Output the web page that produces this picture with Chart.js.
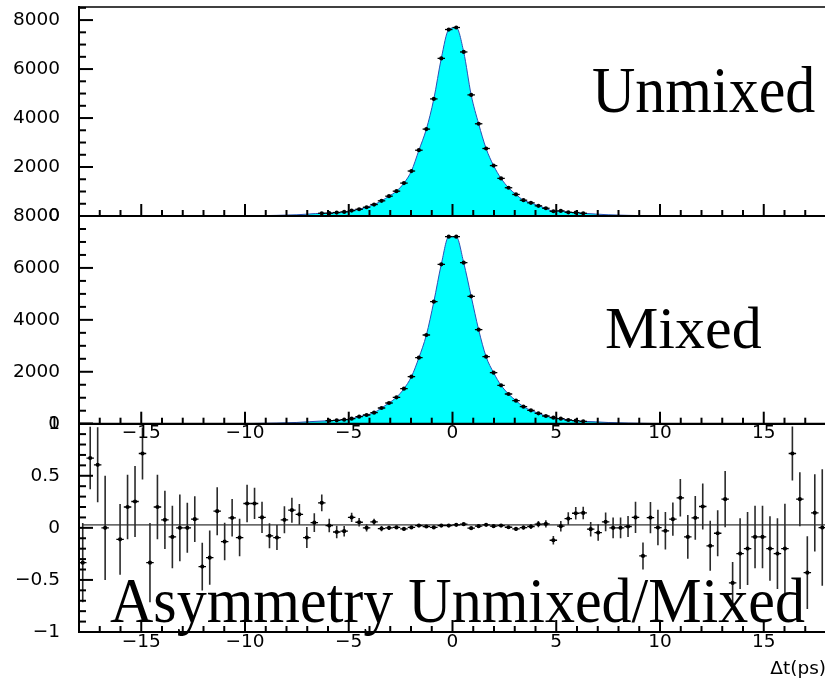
<!DOCTYPE html>
<html>
<head>
<meta charset="utf-8">
<script src="https://cdn.jsdelivr.net/npm/chart.js@4/dist/chart.umd.min.js"></script>
<style>
html,body{margin:0;padding:0;background:#fff;overflow:hidden;width:825px;height:680px}
#wrap{position:relative;width:830px;height:680px}
canvas{position:absolute;left:0;top:0}
</style>
</head>
<body>
<div id="wrap">
<canvas id="cAsym" width="830" height="680"></canvas>
<canvas id="cMixed" width="830" height="680"></canvas>
<canvas id="cUnmixed" width="830" height="680"></canvas>
</div>
<script>
// ---------- binning (100 bins over -18 .. 18 ps) ----------
const BIN_LO = -18;
const BIN_W = 0.36;
const FIRST_COUNT_BIN = 32;          // first bin carrying a visible marker (centre -6.30)

// ---------- Unmixed counts, bins 32..67 (centres -6.30 .. +6.30) ----------
const unmixedCounts = [111,115,140,168,222,275,357,468,620,809,
  1014,1343,1836,2686,3548,4781,6436,7614,7696,6698,
  4945,3766,2756,2057,1536,1154,879,645,538,415,
  316,193,209,152,140,111];

// ---------- Mixed counts, bins 32..67 ----------
const mixedCounts = [null,116,131,154,193,270,335,424,605,797,
  1017,1348,1810,2542,3417,4700,6140,7203,7203,6202,
  4907,3621,2581,1965,1479,1144,886,655,516,400,
  297,231,193,143,116,92];

// ---------- fitted-curve tails (near zero, outside the marker range) ----------
const fitTailLeftX  = [-10.4, -9.5, -8.5, -7.5, -6.9];
const fitTailRightX = [6.9, 7.5, 8.5, 9.5, 10.0];
const unmixedTailLeft  = [0, 10, 25, 50, 82];
const unmixedTailRight = [80, 50, 25, 10, 0];
const mixedTailLeft    = [0, 10, 24, 48, 78];
const mixedTailRight   = [72, 46, 24, 10, 0];

// ---------- Asymmetry (Unmixed-Mixed)/(Unmixed+Mixed), bins 0..99 ----------
const asymValues = [
  -0.334, 0.67, 0.605, 0.0, null, -0.11, 0.20, 0.253, 0.714, -0.334,
   0.20, 0.077, -0.087, 0.0, 0.0, 0.083, -0.372, -0.286, 0.16, -0.132,
   0.096, -0.093, 0.234, 0.234, 0.10, -0.077, -0.093, 0.077, 0.17, 0.13,
  -0.093, 0.05, 0.24, 0.022, -0.04, -0.032, 0.10, 0.054, 0.0, 0.058,
  -0.007, 0.0, 0.004, -0.01, 0.004, 0.022, 0.013, 0.004, 0.022, 0.022,
   0.029, 0.035, -0.003, 0.016, 0.029, 0.016, 0.022, 0.006, -0.01, 0.003,
   0.013, 0.035, 0.038, -0.119, 0.016, 0.089, 0.14, 0.143, -0.013, -0.045,
   0.058, 0.0, 0.0, 0.013, 0.10, -0.27, 0.099, 0.003, -0.029, 0.083,
   0.288, -0.087, 0.096, 0.205, -0.173, -0.052, 0.275, -0.529, -0.247, -0.199,
  -0.087, -0.087, -0.199, -0.247, -0.199, 0.714, 0.275, -0.43, 0.144, 0.003];
const asymErrors = [
  0.38, 0.30, 0.36, 0.50, 0, 0.34, 0.31, 0.34, 0.25, 0.38,
  0.31, 0.28, 0.30, 0.32, 0.24, 0.22, 0.23, 0.26, 0.23, 0.18,
  0.18, 0.18, 0.18, 0.15, 0.15, 0.12, 0.12, 0.13, 0.12, 0.10,
  0.10, 0.09, 0.08, 0.065, 0.06, 0.05, 0.045, 0.04, 0.035, 0.03,
  0.025, 0.02, 0.015, 0.015, 0.012, 0.012, 0.01, 0.01, 0.01, 0.01,
  0.01, 0.01, 0.01, 0.01, 0.012, 0.012, 0.015, 0.015, 0.018, 0.02,
  0.025, 0.03, 0.035, 0.04, 0.05, 0.06, 0.06, 0.06, 0.07, 0.08,
  0.09, 0.10, 0.10, 0.10, 0.15, 0.13, 0.15, 0.17, 0.18, 0.16,
  0.18, 0.21, 0.21, 0.22, 0.24, 0.22, 0.27, 0.20, 0.34, 0.35,
  0.30, 0.30, 0.31, 0.34, 0.43, 0.26, 0.26, 0.35, 0.37, 0.56];
const asymFitLevel = 0.028;
const asymFitRange = [-17.82, 18];

// ---------- axis ticks ----------
const xTickStep = 5, xMinorStep = 1;
const countTickStep = 2000, countMinorStep = 500;
const asymTickStep = 0.5, asymMinorStep = 0.1;
const xTitle = 'Δt(ps)';

// ---------- helpers ----------
const binCentre = i => BIN_LO + BIN_W * (i + 0.5);
const signed = v => (v < 0 ? '\u2212' : '') + Math.abs(Math.round(v * 1000) / 1000);
const SANS = 'DejaVu Sans';
const LABEL_SIZE = 18.5;

function countPoints(arr) {
  return arr.map((v, i) => ({x: binCentre(FIRST_COUNT_BIN + i), y: v}));
}
function fitCurve(arr, tailL, tailR) {
  const pts = fitTailLeftX.map((x, i) => ({x, y: tailL[i]}));
  arr.forEach((v, i) => { if (v != null) pts.push({x: binCentre(FIRST_COUNT_BIN + i), y: v}); });
  fitTailRightX.forEach((x, i) => pts.push({x, y: tailR[i]}));
  return pts;
}
function stepTicks(scale, step) {
  const out = [];
  for (let k = Math.ceil(scale.min / step - 1e-9); k * step <= scale.max + 1e-9; k++) {
    out.push({value: Math.round(k * step * 1000) / 1000});
  }
  scale.ticks = out;
}

// error bars (horizontal = bin width, vertical = error) under dataset 0 markers
const errBarPlugin = {
  id: 'errbars',
  beforeDatasetDraw(chart, args, opts) {
    if (args.index !== 0) return;
    const {ctx, chartArea: a, scales: {x, y}} = chart;
    const data = chart.data.datasets[0].data;
    const errs = opts.err || [];
    ctx.save();
    ctx.beginPath(); ctx.rect(a.left, a.top, a.right - a.left, a.bottom - a.top); ctx.clip();
    ctx.strokeStyle = '#000';
    data.forEach((p, i) => {
      if (p.y == null) return;
      const px = x.getPixelForValue(p.x), py = y.getPixelForValue(p.y);
      ctx.lineWidth = 1.3;
      ctx.beginPath();
      ctx.moveTo(x.getPixelForValue(p.x - BIN_W / 2), py);
      ctx.lineTo(x.getPixelForValue(p.x + BIN_W / 2), py);
      ctx.stroke();
      const e = errs[i];
      if (e) {
        ctx.lineWidth = 1.6;
        ctx.strokeStyle = '#2a2a2a';
        ctx.beginPath();
        ctx.moveTo(px, y.getPixelForValue(p.y + e));
        ctx.lineTo(px, y.getPixelForValue(p.y - e));
        ctx.stroke();
        ctx.strokeStyle = '#000';
      }
    });
    ctx.restore();
  }
};

// ROOT-style inward ticks, frame and the big caption
const rootAxesPlugin = {
  id: 'rootAxes',
  afterDraw(chart, args, o) {
    const {ctx, chartArea: a, scales: {x, y}} = chart;
    ctx.save();
    ctx.strokeStyle = '#000';
    ctx.lineWidth = 2;
    // x ticks
    for (let k = Math.ceil(x.min / xMinorStep); k * xMinorStep <= x.max + 1e-9; k++) {
      const v = k * xMinorStep;
      const px = x.getPixelForValue(v);
      const len = (k % Math.round(xTickStep / xMinorStep) === 0) ? 12 : 6;
      ctx.beginPath(); ctx.moveTo(px, a.bottom); ctx.lineTo(px, a.bottom - len); ctx.stroke();
    }
    // y ticks
    const ratio = Math.round(o.yMajor / o.yMinor);
    for (let k = Math.ceil(y.min / o.yMinor - 1e-9); k * o.yMinor <= y.max + 1e-9; k++) {
      const py = y.getPixelForValue(k * o.yMinor);
      const len = (k % ratio === 0) ? 14 : 7;
      ctx.beginPath(); ctx.moveTo(a.left, py); ctx.lineTo(a.left + len, py); ctx.stroke();
    }
    // frame
    ctx.beginPath(); ctx.moveTo(a.left, a.top); ctx.lineTo(a.left, a.bottom); ctx.lineTo(a.right, a.bottom); ctx.stroke();
    if (o.topLine) {
      ctx.lineWidth = 1.3;
      ctx.beginPath(); ctx.moveTo(a.left, a.top); ctx.lineTo(a.right, a.top); ctx.stroke();
    }
    // caption
    if (o.text) {
      ctx.fillStyle = '#000';
      ctx.font = '60px "Liberation Serif"';
      ctx.textBaseline = 'alphabetic';
      ctx.textAlign = 'left';
      ctx.translate(o.tx, o.ty);
      ctx.scale(o.sx || 1, o.sy || 1);
      ctx.fillText(o.text, 0, 0);
    }
    ctx.restore();
  }
};

function makeOptions(p) {
  return {
    responsive: false,
    animation: false,
    devicePixelRatio: 1,
    layout: {padding: {left: 0, right: 2.2, top: p.padTop, bottom: p.padBottom}},
    plugins: {
      legend: {display: false},
      tooltip: {enabled: false},
      errbars: {err: p.err},
      rootAxes: {yMajor: p.yStep, yMinor: p.yMinor, topLine: p.topLine,
                 text: p.text, tx: p.tx, ty: p.ty, sx: p.sx, sy: p.sy}
    },
    scales: {
      x: {
        type: 'linear', position: 'bottom', min: -18, max: 18,
        grid: {display: false, drawTicks: false},
        border: {display: true, color: '#000', width: 2},
        ticks: {display: p.showX, autoSkip: false,
                maxRotation: 0, padding: p.xPad, color: '#000',
                font: {family: SANS, size: LABEL_SIZE}, callback: v => signed(v)},
        afterBuildTicks(s) { stepTicks(s, xTickStep); },
        title: {display: !!p.xTitle, text: p.xTitle || '', align: 'end', color: '#000',
                font: {family: SANS, size: LABEL_SIZE}, padding: {top: 0, bottom: 0}},
        afterFit(s) { s.height = p.xHeight; s.paddingLeft = 0; s.paddingRight = 0; }
      },
      y: {
        type: 'linear', position: 'left', min: p.yMin, max: p.yMax,
        grid: {display: false, drawTicks: false},
        border: {display: true, color: '#000', width: 2},
        ticks: {padding: 19, color: '#000', autoSkip: false,
                font: {family: SANS, size: LABEL_SIZE}, callback: v => signed(v)},
        afterBuildTicks(s) { stepTicks(s, p.yStep); },
        afterFit(s) { s.width = 79; s.paddingTop = 0; s.paddingBottom = 0; }
      }
    }
  };
}

function countChart(id, counts, tailL, tailR, p) {
  return new Chart(document.getElementById(id), {
    type: 'scatter',
    data: {datasets: [
      {type: 'scatter', data: countPoints(counts), pointRadius: 2.1, pointBackgroundColor: '#000',
       pointBorderWidth: 0, showLine: false, order: 0},
      {type: 'line', data: fitCurve(counts, tailL, tailR), fill: 'origin',
       backgroundColor: '#00ffff', borderColor: '#2b4fb5', borderWidth: 1,
       pointRadius: 0, cubicInterpolationMode: 'monotone', order: 1}
    ]},
    options: makeOptions(p),
    plugins: [errBarPlugin, rootAxesPlugin]
  });
}

countChart('cUnmixed', unmixedCounts, unmixedTailLeft, unmixedTailRight, {
  padTop: 7, padBottom: 464, xHeight: 0, showX: false, xPad: 0,
  yMin: 0, yMax: 8534, yStep: countTickStep, yMinor: countMinorStep, topLine: true,
  err: [], text: 'Unmixed', tx: 592, ty: 111.7, sx: 1, sy: 1.085
});

countChart('cMixed', mixedCounts, mixedTailLeft, mixedTailRight, {
  padTop: 216, padBottom: 226.3, xHeight: 30, showX: true, xPad: -1.5,
  yMin: 0, yMax: 8000, yStep: countTickStep, yMinor: countMinorStep, topLine: false,
  err: [], text: 'Mixed', tx: 605, ty: 348.3, sx: 1, sy: 1
});

new Chart(document.getElementById('cAsym'), {
  type: 'scatter',
  data: {datasets: [
    {type: 'scatter', data: asymValues.map((v, i) => ({x: binCentre(i), y: v})),
     pointRadius: 2.1, pointBackgroundColor: '#000', pointBorderWidth: 0, showLine: false, order: 0},
    {type: 'line', data: asymFitRange.map(x => ({x, y: asymFitLevel})),
     borderColor: '#000', borderWidth: 1, pointRadius: 0, fill: false, order: 1}
  ]},
  options: makeOptions({
    padTop: 423.7, padBottom: 0, xHeight: 48, showX: true, xPad: -0.5, xTitle: xTitle,
    yMin: -1, yMax: 1, yStep: asymTickStep, yMinor: asymMinorStep, topLine: false,
    err: asymErrors, text: 'Asymmetry Unmixed/Mixed', tx: 110, ty: 621.7, sx: 1, sy: 1.05
  }),
  plugins: [errBarPlugin, rootAxesPlugin]
});
</script>
</body>
</html>
